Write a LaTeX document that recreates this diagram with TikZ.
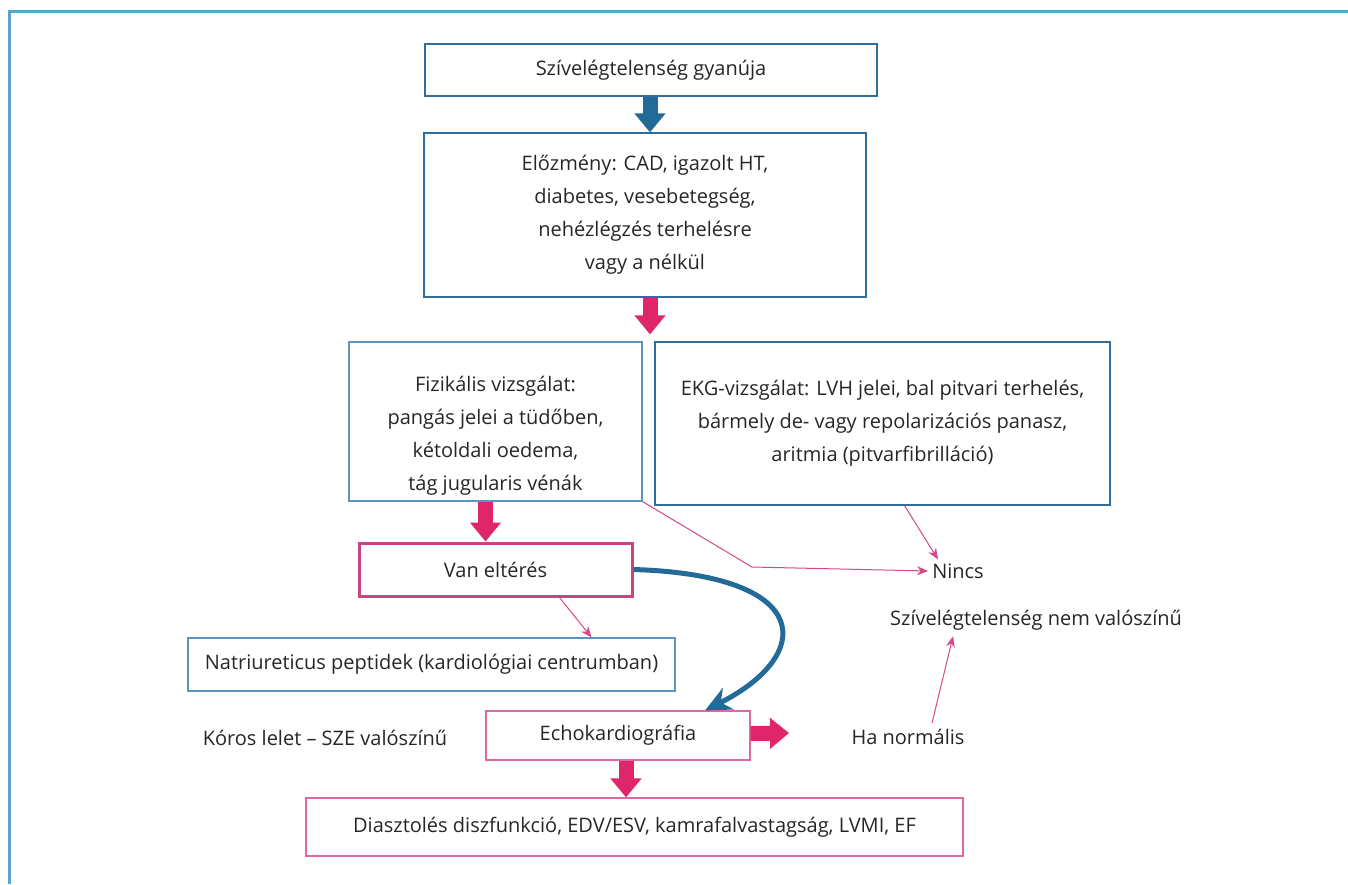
\documentclass[tikz,border=0pt]{standalone}
\usepackage{fontspec}
\setmainfont{Open Sans}
\usetikzlibrary{positioning,arrows.meta}

\definecolor{boxblue}{HTML}{2F6D9D}
\definecolor{lightblue}{HTML}{5B95BF}
\definecolor{arrowblue}{HTML}{246A99}
\definecolor{fatpink}{HTML}{E0266A}
\definecolor{thinpink}{HTML}{D6478A}
\definecolor{boldpink}{HTML}{C9457F}
\definecolor{softpink}{HTML}{DA6A9F}
\definecolor{framecol}{HTML}{5AA5CD}

\begin{document}
\begin{tikzpicture}[x=1pt, y=-1pt,
  every node/.style={font=\fontsize{20}{33}\selectfont, text=black!85, align=center, inner sep=0pt},
  bluebox/.style={draw=boxblue, line width=1.2pt},
  lightbox/.style={draw=lightblue, line width=1.2pt},
  pinkbox/.style={draw=softpink, line width=1.2pt},
  fatarrow/.style={line width=15pt, -{Triangle[length=19pt,width=30pt]}},
  thinarrow/.style={draw=thinpink, line width=1pt, -{Stealth[length=11pt,width=9pt]}}]
\useasboundingbox (0,0) rectangle (1348,884);
% frame
\draw[framecol, line width=3pt] (9,884) -- (9,11) -- (1348,11);

% Nodes
\node[bluebox, minimum width=452, minimum height=52] (susp) at (651,70) {Szívelégtelenség gyanúja};
\node[bluebox, minimum width=442, minimum height=164] (hist) at (645,215) {Előzmény: CAD, igazolt HT,\\ diabetes, vesebetegség,\\ nehézlégzés terhelésre\\ vagy a nélkül};
\node[lightbox, minimum width=293, minimum height=159] (phys) at (495.5,421.5) {\rule{0pt}{44pt}Fizikális vizsgálat:\\ pangás jelei a tüdőben,\\ kétoldali oedema,\\ tág jugularis vénák};
\node[bluebox, minimum width=455, minimum height=163] (ekg) at (882.5,423.5) {EKG-vizsgálat: LVH jelei, bal pitvari terhelés,\\ bármely de- vagy repolarizációs panasz,\\ aritmia (pitvarfibrilláció)};
\node[draw=boldpink, line width=3pt, minimum width=273, minimum height=53] (diff) at (495.5,569.5) {Van eltérés};
\node (nincs) at (958,571) {Nincs};
\node (unlikely) at (1036,620) {Szívelégtelenség nem valószínű};
\node[lightbox, minimum width=487, minimum height=53] (bnp) at (431.5,664.5) {Natriureticus peptidek (kardiológiai centrumban)};
\node (koros) at (325,738) {Kóros lelet – SZE valószínű};
\node[pinkbox, minimum width=264, minimum height=49] (echo) at (618,735.5) {Echokardiográfia};
\node (hanorm) at (908,737) {Ha normális};
\node[pinkbox, minimum width=657, minimum height=58] (final) at (634.5,827) {Diasztolés diszfunkció, EDV/ESV, kamrafalvastagság, LVMI, EF};
\coordinate (bend) at (752,567);
\coordinate (echoout) at (789,733);

% Arrows
\draw[fatarrow, arrowblue] (susp.south -| 650,0) -- (hist.north -| 650,0);
\draw[fatarrow, fatpink] (hist.south -| 650,0) -- ([yshift=7pt]phys.north -| 650,0);
\draw[fatarrow, fatpink] ([xshift=-10pt]phys.south) -- ([xshift=-10pt]diff.north);
\draw[fatarrow, fatpink] ([yshift=2pt]echo.east) -- (echoout);
\draw[fatarrow, fatpink] ([xshift=8pt]echo.south) -- ([xshift=-8.5pt]final.north);
\draw[thinarrow] (phys.south east) -- (bend) -- ([xshift=-4pt]nincs.west);
\draw[thinarrow] ([xshift=22pt]ekg.south) -- ([xshift=-20pt,yshift=4pt]nincs.north);
\draw[thinarrow] ([xshift=64pt]diff.south) -- ([xshift=160pt]bnp.north);
\draw[thinarrow] ([xshift=24pt,yshift=6pt]hanorm.north) -- ([xshift=-83pt,yshift=-6pt]unlikely.south);
\draw[arrowblue, line width=5pt, -{Stealth[length=26pt,width=24pt]}] (diff.east) .. controls (815,575) and (815,655) .. ([xshift=87pt]echo.north);
\end{tikzpicture}
\end{document}
